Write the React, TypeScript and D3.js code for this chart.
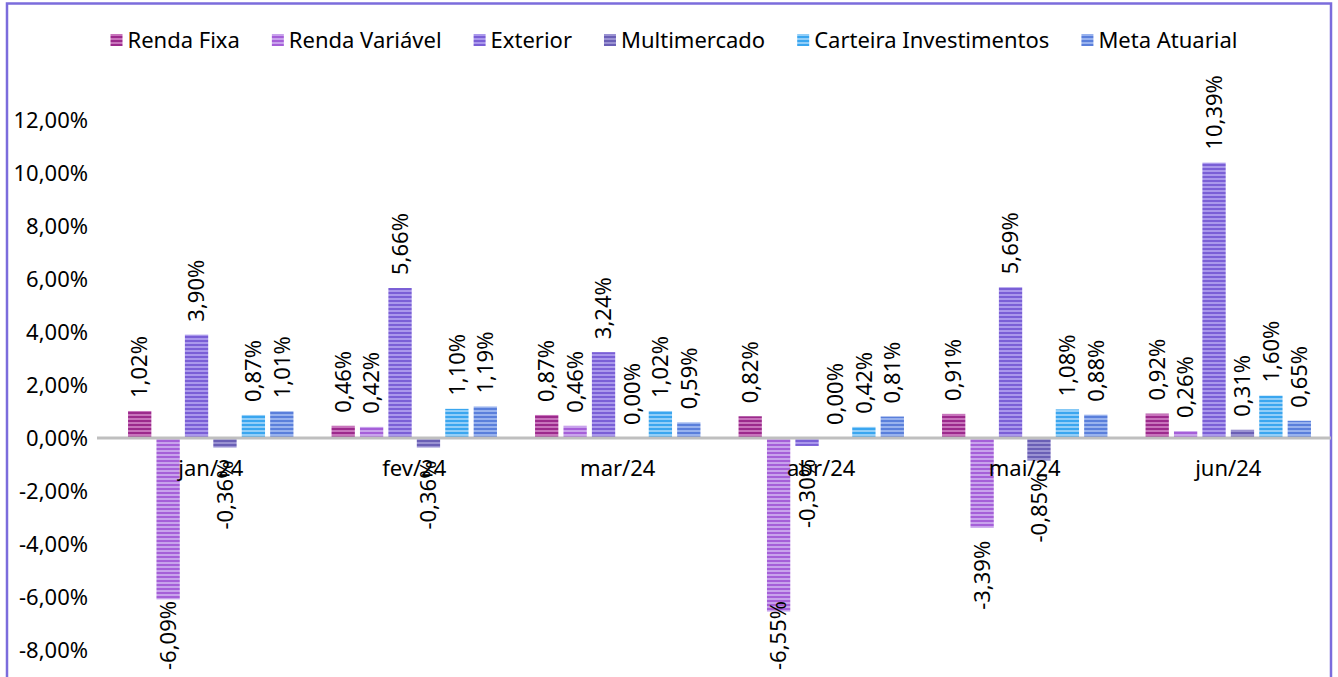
import React from "react";
import * as d3 from "d3";

const months = ["jan/24", "fev/24", "mar/24", "abr/24", "mai/24", "jun/24"];
const seriesNames = ["Renda Fixa", "Renda Variável", "Exterior", "Multimercado", "Carteira Investimentos", "Meta Atuarial"];
const rendaFixa = [1.02, 0.46, 0.87, 0.82, 0.91, 0.92];
const rendaVariavel = [-6.09, 0.42, 0.46, -6.55, -3.39, 0.26];
const exterior = [3.9, 5.66, 3.24, -0.3, 5.69, 10.39];
const multimercado = [-0.36, -0.36, 0.0, 0.0, -0.85, 0.31];
const carteira = [0.87, 1.1, 1.02, 0.42, 1.08, 1.6];
const metaAtuarial = [1.01, 1.19, 0.59, 0.81, 0.88, 0.65];
const yTicks = [-8, -6, -4, -2, 0, 2, 4, 6, 8, 10, 12];

const seriesValues = [rendaFixa, rendaVariavel, exterior, multimercado, carteira, metaAtuarial];
const darkColors = ["#9c2a8c", "#a55fd8", "#7a5fd6", "#6a5fb5", "#3aa6ef", "#5a7fdb"];
const lightColors = ["#c874bc", "#c8a2ec", "#aa98ec", "#9a92d2", "#92cef8", "#98b2ee"];

const W = 1338;
const H = 677;
const FONT = "'Noto Sans', 'Open Sans', sans-serif";
const FS = 22;

let ctx: CanvasRenderingContext2D | null = null;
function measure(t: string, size = FS) {
  if (!ctx) ctx = document.createElement("canvas").getContext("2d");
  if (!ctx) return t.length * size * 0.55;
  ctx.font = `${size}px ${FONT}`;
  return ctx.measureText(t).width;
}

const fmt = (v: number) => v.toFixed(2).replace(".", ",") + "%";

export default function App() {
  const y = d3.scaleLinear().domain([-8, 12]).range([650, 120]);
  const x = d3.scaleBand<string>().domain(months).range([109, 1330]).padding(0);
  const xi = d3
    .scaleBand<string>()
    .domain(seriesNames)
    .range([0, x.bandwidth()])
    .paddingInner(0.18)
    .paddingOuter(0.67);

  // legend layout
  const sq = 12;
  const gapSqText = 5;
  const itemGap = 32;
  const widths = seriesNames.map((s) => sq + gapSqText + measure(s));
  const total = d3.sum(widths) + itemGap * (seriesNames.length - 1);
  let lx = 674 - total / 2;
  const legendItems = seriesNames.map((s, i) => {
    const item = { name: s, x: lx, i };
    lx += widths[i] + itemGap;
    return item;
  });

  const gap = 13;

  return (
    <div style={{ position: "fixed", left: 0, top: 0, width: W, height: H, background: "#fff" }}>
      <svg width={W} height={H} style={{ display: "block" }} fontFamily={FONT}>
        <defs>
          {seriesNames.map((s, i) => (
            <pattern key={s} id={`pat${i}`} patternUnits="userSpaceOnUse" width={8} height={4}>
              <rect width={8} height={4} fill={lightColors[i]} />
              <rect width={8} height={2} fill={darkColors[i]} />
            </pattern>
          ))}
        </defs>
        <rect x={0} y={0} width={W} height={H} fill="#fff" />
        {/* frame */}
        <path d={`M7,${H + 2} V3.5 H1331 V${H + 2}`} fill="none" stroke="#7b6cdc" strokeWidth={2.5} />

        {/* legend */}
        {legendItems.map((it) => (
          <g key={it.name}>
            <rect x={it.x} y={34} width={sq} height={sq} fill={`url(#pat${it.i})`} />
            <text x={it.x + sq + gapSqText} y={40} dy="0.35em" fontSize={FS} fill="#000">
              {it.name}
            </text>
          </g>
        ))}

        {/* y axis labels */}
        {yTicks.map((t) => (
          <text key={t} x={88} y={y(t)} dy="0.35em" textAnchor="end" fontSize={FS} fill="#000">
            {fmt(t)}
          </text>
        ))}

        {/* bars */}
        {months.map((m, mi) => (
          <g key={m}>
            {seriesNames.map((s, si) => {
              const v = seriesValues[si][mi];
              const bx = (x(m) as number) + (xi(s) as number);
              const y0 = y(0);
              const yv = y(v);
              return (
                <rect
                  key={s}
                  x={bx}
                  y={Math.min(y0, yv)}
                  width={xi.bandwidth()}
                  height={Math.abs(yv - y0)}
                  fill={`url(#pat${si})`}
                />
              );
            })}
          </g>
        ))}

        {/* zero line */}
        <line x1={97} x2={1331} y1={y(0)} y2={y(0)} stroke="#bfbfbf" strokeWidth={3} />

        {/* category labels */}
        {months.map((m) => (
          <text
            key={m}
            x={(x(m) as number) + x.bandwidth() / 2}
            y={468}
            dy="0.35em"
            textAnchor="middle"
            fontSize={FS}
            fill="#000"
          >
            {m}
          </text>
        ))}

        {/* data labels */}
        {months.map((m, mi) => (
          <g key={m}>
            {seriesNames.map((s, si) => {
              const v = seriesValues[si][mi];
              const cx = (x(m) as number) + (xi(s) as number) + xi.bandwidth() / 2;
              const label = fmt(v);
              const len = measure(label);
              let ys: number;
              if (v >= 0) {
                ys = y(v) - gap;
              } else {
                ys = Math.min(y(v) + gap + len, 670);
              }
              return (
                <text
                  key={s}
                  transform={`translate(${cx},${ys}) rotate(-90)`}
                  dy="0.35em"
                  textAnchor="start"
                  fontSize={FS}
                  fill="#000"
                >
                  {label}
                </text>
              );
            })}
          </g>
        ))}
      </svg>
    </div>
  );
}
